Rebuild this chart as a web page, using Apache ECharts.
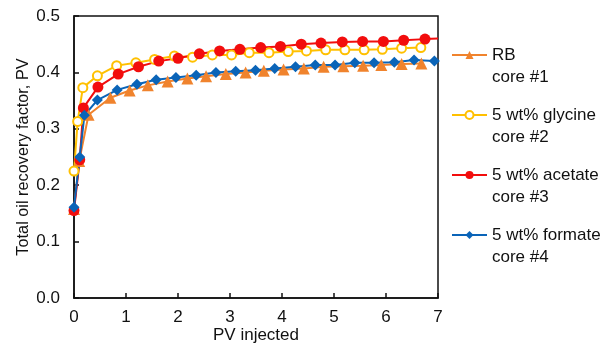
<!DOCTYPE html>
<html>
<head>
<meta charset="utf-8">
<script src="https://cdn.jsdelivr.net/npm/echarts@6/dist/echarts.min.js"></script>
<style>
  html, body { margin: 0; padding: 0; background: #fff; }
  #main { width: 603px; height: 343px; }
</style>
</head>
<body>
<div id="main"></div>
<script>
  const names = ["RB\ncore #1", "5 wt% glycine\ncore #2", "5 wt% acetate\ncore #3", "5 wt% formate\ncore #4"];

  const rbX = [0, 0.1, 0.28, 0.7, 1.07, 1.42, 1.8, 2.18, 2.54, 2.92, 3.3, 3.65, 4.03, 4.42, 4.8, 5.18, 5.56, 5.91, 6.3, 6.68];
  const rbY = [0.158, 0.243, 0.325, 0.355, 0.368, 0.377, 0.384, 0.389, 0.393, 0.397, 0.4, 0.403, 0.405, 0.407, 0.41, 0.411, 0.412, 0.413, 0.415, 0.416];

  const glyX = [0, 0.07, 0.17, 0.45, 0.82, 1.19, 1.55, 1.93, 2.28, 2.66, 3.03, 3.37, 3.75, 4.12, 4.47, 4.84, 5.21, 5.58, 5.93, 6.3, 6.67];
  const glyY = [0.225, 0.313, 0.373, 0.394, 0.412, 0.417, 0.423, 0.429, 0.427, 0.431, 0.431, 0.435, 0.435, 0.437, 0.438, 0.44, 0.44, 0.44, 0.441, 0.443, 0.444];

  const aceX = [0, 0.11, 0.18, 0.46, 0.85, 1.24, 1.63, 2.0, 2.41, 2.8, 3.19, 3.59, 3.97, 4.37, 4.75, 5.16, 5.55, 5.95, 6.34, 6.75, 7.0];
  const aceY = [0.155, 0.245, 0.337, 0.374, 0.397, 0.41, 0.42, 0.425, 0.433, 0.438, 0.441, 0.444, 0.446, 0.45, 0.452, 0.454, 0.455, 0.455, 0.457, 0.459, 0.46];

  const forX = [0, 0.11, 0.2, 0.45, 0.83, 1.21, 1.58, 1.96, 2.35, 2.73, 3.11, 3.49, 3.86, 4.26, 4.64, 5.02, 5.4, 5.77, 6.16, 6.54, 6.93];
  const forY = [0.161, 0.25, 0.324, 0.351, 0.369, 0.379, 0.387, 0.391, 0.395, 0.4, 0.402, 0.404, 0.407, 0.41, 0.413, 0.413, 0.417, 0.417, 0.418, 0.422, 0.42];

  const xTicks = { min: 0, max: 7, interval: 1 };
  const yTicks = { min: 0, max: 0.5, interval: 0.1 };

  const pair = (xs, ys) => xs.map((x, i) => [x, ys[i]]);
  const font = "Liberation Sans, Arial, sans-serif";

  const aceData = pair(aceX, aceY).map((d, i, arr) =>
    i === arr.length - 1 ? { value: d, symbol: "none" } : d
  );

  var myChart = echarts.init(document.getElementById("main"));
  myChart.setOption({
    animation: false,
    textStyle: { fontFamily: font },
    grid: {
      left: 74, right: 165, top: 16, bottom: 45,
      outerBoundsMode: "none",
      show: true, borderColor: "#111", borderWidth: 1.5,
    },
    legend: {
      orient: "vertical",
      left: 446,
      top: 17,
      itemWidth: 35,
      itemHeight: 10,
      itemGap: -6,
      // blank first line so the marker sits level with the first text line
      formatter: (name) => "\n" + name,
      textStyle: {
        color: "#111",
        fontSize: 17,
        lineHeight: 22,
      },
      data: names,
    },
    xAxis: {
      type: "value",
      min: xTicks.min,
      max: xTicks.max,
      interval: xTicks.interval,
      name: "PV injected",
      nameLocation: "middle",
      nameGap: 29,
      nameMoveOverlap: false,
      nameTextStyle: { color: "#111", fontSize: 17 },
      axisLine: { lineStyle: { color: "#111", width: 1.5 } },
      axisTick: { inside: true, length: 5, lineStyle: { color: "#111", width: 1.5 } },
      axisLabel: { color: "#111", fontSize: 17, margin: 11 },
      splitLine: { show: false },
    },
    yAxis: {
      type: "value",
      min: yTicks.min,
      max: yTicks.max,
      interval: yTicks.interval,
      name: "Total oil recovery factor, PV",
      nameLocation: "middle",
      nameGap: 42,
      nameMoveOverlap: false,
      nameTextStyle: { color: "#111", fontSize: 16.3 },
      axisLine: { lineStyle: { color: "#111", width: 1.5 } },
      axisTick: { inside: true, length: 5, lineStyle: { color: "#111", width: 1.5 } },
      axisLabel: { color: "#111", fontSize: 17, margin: 14, formatter: (v) => v.toFixed(1) },
      splitLine: { show: false },
    },
    series: [
      {
        name: names[0],
        type: "line",
        data: pair(rbX, rbY),
        symbol: "triangle",
        symbolSize: 12,
        lineStyle: { color: "#F0832D", width: 2 },
        itemStyle: { color: "#F0832D" },
      },
      {
        name: names[1],
        type: "line",
        data: pair(glyX, glyY),
        symbol: "circle",
        symbolSize: 9,
        lineStyle: { color: "#FFC000", width: 2 },
        itemStyle: { color: "#fff", borderColor: "#FFC000", borderWidth: 2 },
      },
      {
        name: names[2],
        type: "line",
        data: aceData,
        symbol: "circle",
        symbolSize: 11,
        lineStyle: { color: "#F20D0D", width: 2 },
        itemStyle: { color: "#F20D0D" },
      },
      {
        name: names[3],
        type: "line",
        data: pair(forX, forY),
        symbol: "diamond",
        symbolSize: 11,
        lineStyle: { color: "#0A64B8", width: 2 },
        itemStyle: { color: "#0A64B8" },
      },
    ],
  });
</script>
</body>
</html>
